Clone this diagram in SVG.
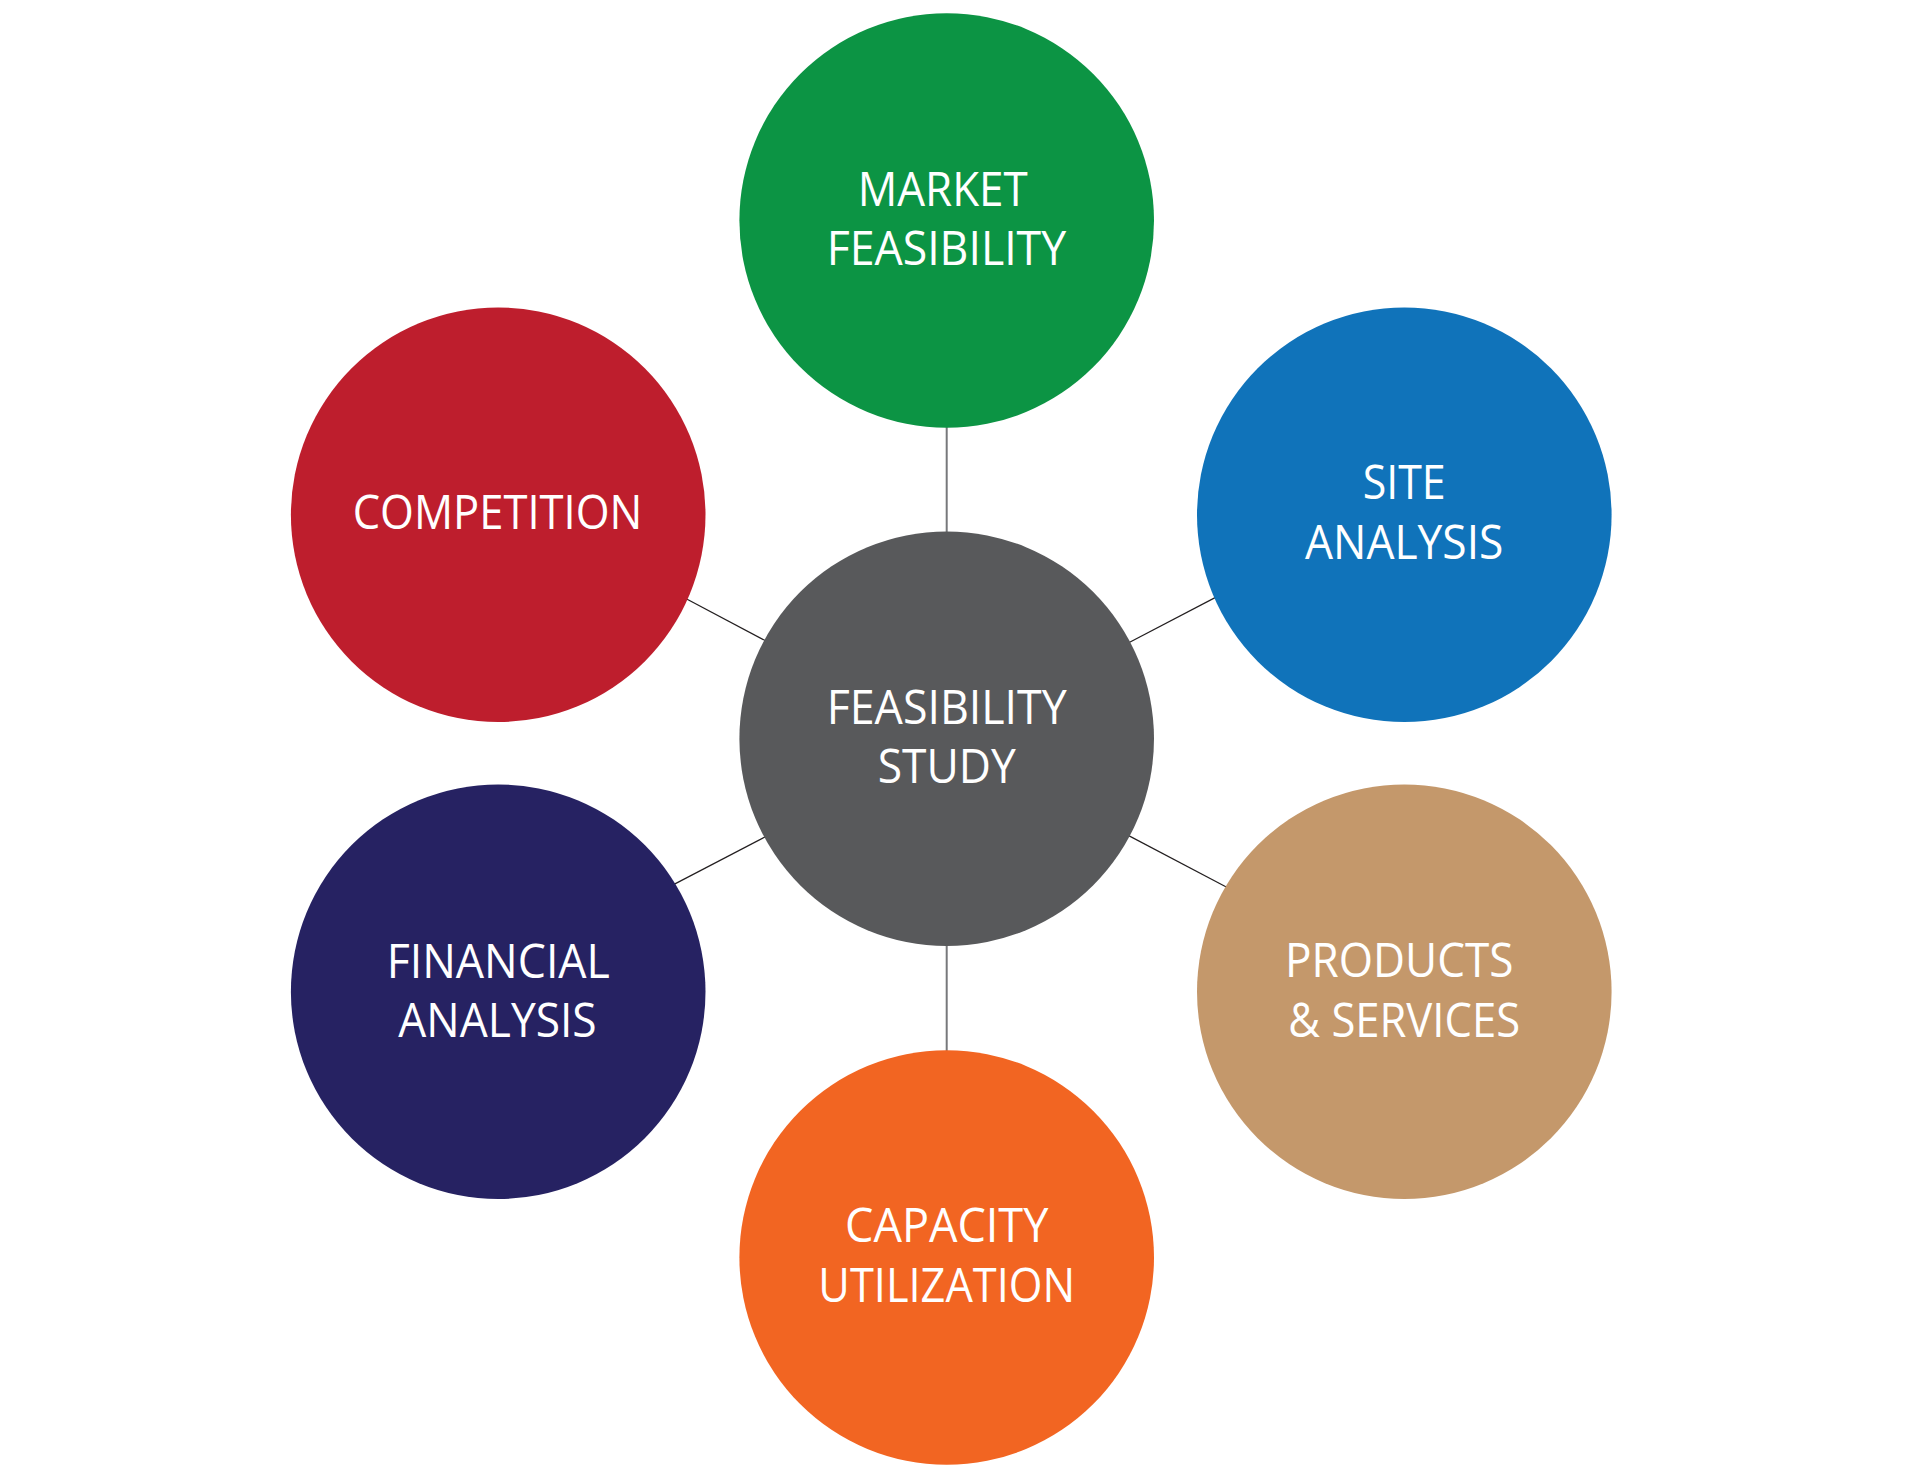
<svg xmlns="http://www.w3.org/2000/svg" width="1920" height="1467" viewBox="0 0 1920 1467">
<style>
.node{stroke:none}
.lbl{font-family:"Open Sans","Noto Sans","Liberation Sans",sans-serif;font-size:48px;fill:#ffffff;text-anchor:middle}
.vline{stroke:#77787b;stroke-width:2;fill:none}
.dline{stroke:#231f20;stroke-width:1.2;fill:none}
</style>
<rect width="1920" height="1467" fill="#ffffff"/>
<g id="connectors">
<line class="vline" x1="946.7" y1="420" x2="946.7" y2="540"/>
<line class="vline" x1="946.7" y1="938" x2="946.7" y2="1058"/>
<line class="dline" x1="682.9" y1="597" x2="768.4" y2="642.3"/>
<line class="dline" x1="1126.3" y1="644" x2="1219.4" y2="595.4"/>
<line class="dline" x1="671.6" y1="885.6" x2="768.4" y2="835.2"/>
<line class="dline" x1="1126.3" y1="834.4" x2="1230.1" y2="889"/>
</g>
<g id="node-center">
<circle class="node" cx="946.7" cy="738.7" r="207.3" fill="#58595b"/>
<text class="lbl" x="946.7" y="724" textLength="240" lengthAdjust="spacingAndGlyphs">FEASIBILITY</text>
<text class="lbl" x="946.7" y="783.3" textLength="138" lengthAdjust="spacingAndGlyphs">STUDY</text>
</g>
<g id="node-market">
<circle class="node" cx="946.7" cy="220.5" r="207.3" fill="#0c9444"/>
<text class="lbl" x="942.7" y="205.8" textLength="170" lengthAdjust="spacingAndGlyphs">MARKET</text>
<text class="lbl" x="946.4" y="265.2" textLength="239.5" lengthAdjust="spacingAndGlyphs">FEASIBILITY</text>
</g>
<g id="node-site">
<circle class="node" cx="1404.3" cy="514.8" r="207.3" fill="#1073ba"/>
<text class="lbl" x="1404.2" y="499.3" textLength="83" lengthAdjust="spacingAndGlyphs">SITE</text>
<text class="lbl" x="1404.2" y="559" textLength="198.3" lengthAdjust="spacingAndGlyphs">ANALYSIS</text>
</g>
<g id="node-competition">
<circle class="node" cx="498.2" cy="514.8" r="207.3" fill="#be1e2d"/>
<text class="lbl" x="497.5" y="529" textLength="289.6" lengthAdjust="spacingAndGlyphs">COMPETITION</text>
</g>
<g id="node-financial">
<circle class="node" cx="498.2" cy="991.7" r="207.3" fill="#262262"/>
<text class="lbl" x="498.3" y="977.7" textLength="223.3" lengthAdjust="spacingAndGlyphs">FINANCIAL</text>
<text class="lbl" x="497.5" y="1037.3" textLength="198.3" lengthAdjust="spacingAndGlyphs">ANALYSIS</text>
</g>
<g id="node-products">
<circle class="node" cx="1404.3" cy="991.7" r="207.3" fill="#c4986b"/>
<text class="lbl" x="1399.2" y="977.3" textLength="228.3" lengthAdjust="spacingAndGlyphs">PRODUCTS</text>
<text class="lbl" x="1404.2" y="1036.7" textLength="231.7" lengthAdjust="spacingAndGlyphs">&amp; SERVICES</text>
</g>
<g id="node-capacity">
<circle class="node" cx="946.7" cy="1257.5" r="207.3" fill="#f26522"/>
<text class="lbl" x="946.7" y="1241.7" textLength="203.3" lengthAdjust="spacingAndGlyphs">CAPACITY</text>
<text class="lbl" x="946.7" y="1301.7" textLength="256.7" lengthAdjust="spacingAndGlyphs">UTILIZATION</text>
</g>
</svg>
